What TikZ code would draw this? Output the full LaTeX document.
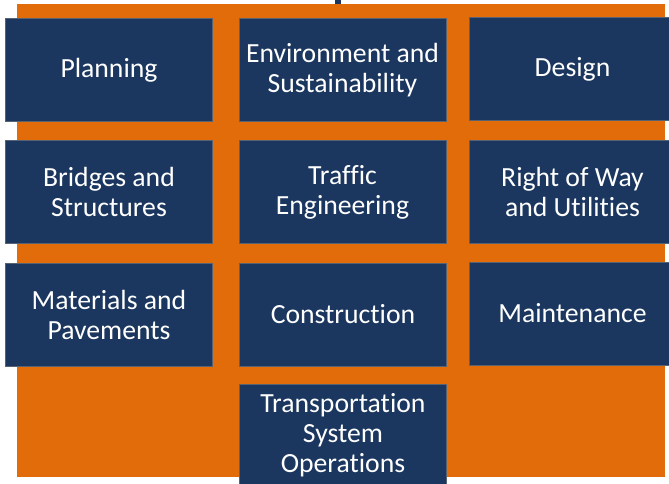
\documentclass[tikz,border=0pt]{standalone}
\usepackage{fontspec}
\setmainfont[Ligatures={NoCommon}]{Carlito}
\usepackage{tikz}

\definecolor{panelorange}{HTML}{E36C0A}
\definecolor{unitblue}{HTML}{1B375F}

\begin{document}
\begin{tikzpicture}[x=1pt, y=-1pt,
	every node/.style={rectangle, fill=unitblue, draw=gray!60!unitblue, line width=0.6pt, text=white, minimum width=207pt, minimum height=103pt, align=center, inner sep=0pt, font=\fontsize{27.7}{30}\selectfont}]
					\useasboundingbox (0,0) rectangle (669,484);
					\clip (0,0) rectangle (669,484);
					
					\fill[panelorange] (17,4) rectangle (665,477);
					
					\coordinate (s1) at (337.5,0);
					\coordinate (s2) at (337.5,4);
					\draw[unitblue, line width=6pt] (s1) -- (s2);
					
					\node (a1) at (109,70){Planning};
					\node (a2) at (342.5,70){Environment and\\Sustainability};
					\node (a3) at (572.5,69){Design};
					
					\node (b1) at (109,192){Bridges and\\Structures};
					\node (b2) at (342.5,192){Traffic\\Engineering};
					\node (b3) at (572.5,192){Right of Way\\and Utilities};
					
					\node (c1) at (109,314.5){Materials and\\Pavements};
					\node (c2) at (343,314.5){Construction};
					\node (c3) at (572.5,313.5){Maintenance};
					
					\node (d1) at (343,435.5){Transportation\\System\\Operations};
\end{tikzpicture}
\end{document}
